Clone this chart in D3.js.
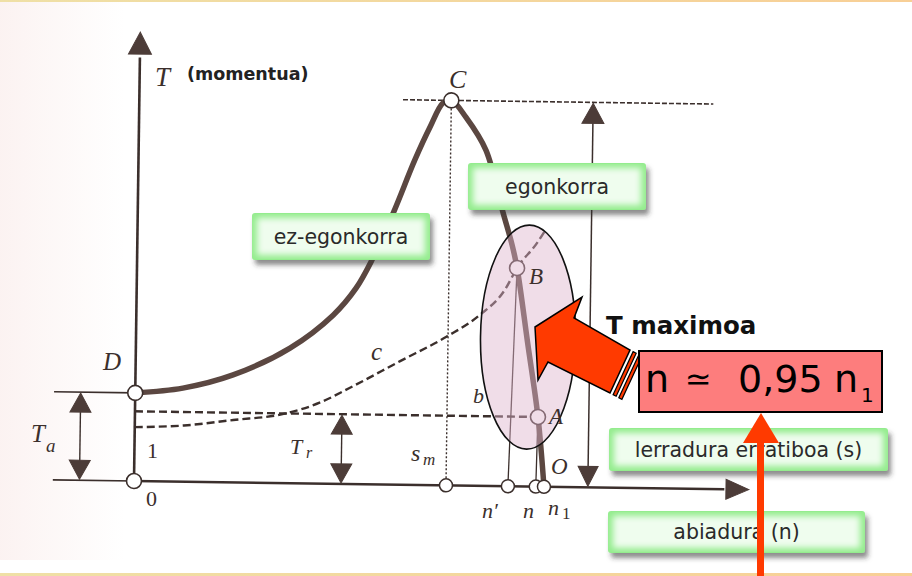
<!DOCTYPE html>
<html>
<head>
<meta charset="utf-8">
<script src="https://cdn.jsdelivr.net/npm/d3@7"></script>
<style>
  body { margin: 0; background: #fff; }
  svg { display: block; }
</style>
</head>
<body>
<script>
// torque / speed curve of the motor (n relative to n1, T in % of Tmax)
var curveSpeed = [0, 0.116, 0.238, 0.376, 0.48, 0.535, 0.573, 0.623, 0.674, 0.71, 0.741, 0.761, 0.797, 0.847, 0.891, 0.914, 0.927, 0.955, 0.983, 1.0];
var curveTorque = [22.9, 24.3, 27.9, 35.1, 43.8, 50.9, 58.3, 70.5, 84.4, 93, 99.3, 100, 95.7, 87.2, 71, 62.7, 56.7, 37.5, 18.1, 0];

// dashed load curve "c"
var loadSpeed = [0, 0.12, 0.24, 0.36, 0.45, 0.52, 0.645, 0.757, 0.838, 0.898, 0.927, 0.975, 0.995];
var loadTorque = [14, 14.6, 16.2, 17.9, 21, 24.8, 32.1, 38.6, 44.4, 51, 56.7, 63.3, 66.7];

// key values
var Tmax = 100, Ta = 22.9, Tr = 18.1;
var pointNames = ["O", "D", "C", "B", "A"];
var pointSpeed = [0, 0, 0.761, 0.927, 0.983];
var pointTorque = [0, Ta, Tmax, 56.7, Tr];
var axisNames = ["sm", "n'", "n", "n1"];
var axisSpeed = [0.761, 0.912, 0.98, 1.0];

// text boxes
var boxLabels = ["ez-egonkorra", "egonkorra", "lerradura erratiboa (s)", "abiadura (n)"];
var formula = ["n", "\u2243", "0,95", "n", "1"];

//chart setup
var svgWidth = 912;
var svgHeight = 576;
var ink = "#3b2f2c";
var brown = "#4c3c38";

var svg = d3.select("body")
  .append("svg")
  .attr("width", svgWidth)
  .attr("height", svgHeight);

var defs = svg.append("defs");

var frameGrad = defs.append("linearGradient").attr("id", "frame");
frameGrad.append("stop").attr("offset", "0%").attr("stop-color", "#efe0a6");
frameGrad.append("stop").attr("offset", "100%").attr("stop-color", "#f8cf96");

var pinkGrad = defs.append("linearGradient").attr("id", "scan");
pinkGrad.append("stop").attr("offset", "0%").attr("stop-color", "#f3d6d2").attr("stop-opacity", 0.3);
pinkGrad.append("stop").attr("offset", "100%").attr("stop-color", "#f3d6d2").attr("stop-opacity", 0);

var shadow = defs.append("filter").attr("id", "shadow")
  .attr("x", "-10%").attr("y", "-20%").attr("width", "130%").attr("height", "160%");
shadow.append("feDropShadow")
  .attr("dx", 3).attr("dy", 5).attr("stdDeviation", 2.5)
  .attr("flood-color", "#333").attr("flood-opacity", 0.55);

var soft = defs.append("filter").attr("id", "soft");
soft.append("feGaussianBlur").attr("stdDeviation", 3);

// background, frame lines
svg.append("rect").attr("width", svgWidth).attr("height", svgHeight).attr("fill", "#fff");
svg.append("rect").attr("x", 0).attr("y", 0).attr("width", 125).attr("height", 560).attr("fill", "url(#scan)");
svg.append("rect").attr("x", 0).attr("y", 0).attr("width", svgWidth).attr("height", 2).attr("fill", "url(#frame)");
svg.append("rect").attr("x", 0).attr("y", 573).attr("width", svgWidth).attr("height", 3).attr("fill", "url(#frame)");

// scales (the scanned drawing is tilted a little)
var x = d3.scaleLinear().domain([0, 1.5]).range([134, 749]);
var y = d3.scaleLinear().domain([0, 100]).range([481, 96]);

var chartGroup = svg.append("g")
  .attr("transform", "rotate(0.8, 134, 481)");

function tri(tx, ty, dir, len, half) {
  // dir: "up", "down", "right"
  if (dir === "up") return [[tx, ty], [tx - half, ty + len], [tx + half, ty + len]];
  if (dir === "down") return [[tx, ty], [tx - half, ty - len], [tx + half, ty - len]];
  return [[tx, ty], [tx - len, ty - half], [tx - len, ty + half]];
}
function drawTri(pts) {
  chartGroup.append("polygon")
    .attr("points", pts.map(p => p.join(",")).join(" "))
    .attr("fill", brown)
    .attr("stroke", brown)
    .attr("stroke-width", 1);
}
function line(x1, y1, x2, y2, w, dash) {
  return chartGroup.append("line")
    .attr("x1", x1).attr("y1", y1).attr("x2", x2).attr("y2", y2)
    .attr("stroke", ink)
    .attr("stroke-width", w)
    .attr("stroke-dasharray", dash || null);
}

// axes
line(x(0), y(0), x(0), y(110), 2.6);
drawTri(tri(x(0), y(116.6), "up", 22, 11.5));
line(x(0), y(0), x(1.44), y(0), 2.6);
drawTri(tri(x(1.5), y(0), "right", 23, 10));

// Ta marker
var xTa = x(-0.133);
line(x(-0.198), y(Ta), x(0), y(Ta), 1.6);
line(x(-0.198), y(0), x(0), y(0), 1.6);
line(xTa, y(Ta) + 10, xTa, y(0) - 10, 1.4);
drawTri(tri(xTa, y(Ta) + 1, "up", 19, 10.5));
drawTri(tri(xTa, y(0) - 1, "down", 19, 10.5));

// Tr marker
var xTr = x(0.505);
line(xTr, y(Tr) + 10, xTr, y(0) - 10, 1.4);
drawTri(tri(xTr, y(Tr) + 1, "up", 19, 10.5));
drawTri(tri(xTr, y(0) - 1, "down", 19, 10.5));

// Tmax marker
var xTm = x(1.107);
line(xTm, y(Tmax) + 10, xTm, y(0) - 10, 1.5);
drawTri(tri(xTm, y(Tmax) + 1, "up", 20, 11));
drawTri(tri(xTm, y(0) - 1, "down", 20, 10));

// guide lines
line(x(0.643), y(Tmax), x(1.40), y(Tmax), 1.6, "5,2");
line(x(0.761), y(Tmax), x(0.761), y(0), 1.4, "2,2");
line(x(0), y(Tr), x(0.983), y(Tr), 2.4, "8,4");
line(x(0.927), y(56.7), x(0.912), y(0), 1.3);
line(x(0.983), y(Tr), x(0.98), y(0), 1.3);

// load curve c
var loadData = loadSpeed.map((s, i) => [s, loadTorque[i]]);
chartGroup.append("path")
  .attr("d", d3.line().x(d => x(d[0])).y(d => y(d[1])).curve(d3.curveMonotoneX)(loadData))
  .attr("fill", "none")
  .attr("stroke", ink)
  .attr("stroke-width", 2.4)
  .attr("stroke-dasharray", "8,4");

// motor torque curve
var curveData = curveSpeed.map((s, i) => [s, curveTorque[i]]);
chartGroup.append("path")
  .attr("d", d3.line().x(d => x(d[0])).y(d => y(d[1])).curve(d3.curveCatmullRom.alpha(0.5))(curveData))
  .attr("fill", "none")
  .attr("stroke", "#5b4741")
  .attr("stroke-width", 5.5)
  .attr("stroke-linecap", "round");

// points
chartGroup.selectAll("circle.pt")
  .data(pointNames)
  .enter()
  .append("circle")
  .attr("class", "pt")
  .attr("cx", (d, i) => x(pointSpeed[i]))
  .attr("cy", (d, i) => y(pointTorque[i]))
  .attr("r", 7.5)
  .attr("fill", "#fff")
  .attr("stroke", ink)
  .attr("stroke-width", 1.6);

chartGroup.selectAll("circle.ax")
  .data(axisNames)
  .enter()
  .append("circle")
  .attr("class", "ax")
  .attr("cx", (d, i) => x(axisSpeed[i]))
  .attr("cy", y(0))
  .attr("r", 6.5)
  .attr("fill", "#fff")
  .attr("stroke", ink)
  .attr("stroke-width", 1.5);

// highlight ellipse around B-A
chartGroup.append("ellipse")
  .attr("cx", x(0.956))
  .attr("cy", y(38.8))
  .attr("rx", 47.5)
  .attr("ry", 112)
  .attr("fill", "#deb3cc")
  .attr("fill-opacity", 0.45)
  .attr("stroke", "#111")
  .attr("stroke-width", 1.6);

// scanned italic labels
var serif = "'Liberation Serif', 'Times New Roman', serif";
function label(txt, lx, ly, size) {
  return svg.append("text")
    .attr("x", lx).attr("y", ly)
    .attr("font-family", serif)
    .attr("font-style", "italic")
    .attr("font-size", size)
    .attr("fill", ink)
    .text(txt);
}
label("T", 155, 86, 27);
label("C", 449, 88, 26);
label("D", 103, 370, 25);
label("c", 371, 360, 25);
label("T", 31, 442, 25);
label("a", 46, 452, 19);
label("1", 147, 458, 22).attr("font-style", "normal");
label("0", 146, 506, 22).attr("font-style", "normal");
label("T", 290, 454, 22);
label("r", 306, 458, 16);
label("s", 411, 461, 24);
label("m", 423, 465, 17);
label("b", 473, 403, 22);
label("B", 529, 284, 23);
label("A", 549, 424, 23);
label("O", 551, 474, 23);
label("n\u2032", 482, 518, 22);
label("n", 523, 518, 22);
label("n", 548, 515, 22);
label("1", 562, 519, 17).attr("font-style", "normal");

svg.append("text")
  .attr("x", 187).attr("y", 80)
  .attr("font-family", "'DejaVu Sans', Verdana, sans-serif")
  .attr("font-weight", "bold")
  .attr("font-size", 17.5)
  .attr("fill", "#222")
  .text("(momentua)");

svg.append("text")
  .attr("x", 606).attr("y", 334)
  .attr("font-family", "'DejaVu Sans', Verdana, sans-serif")
  .attr("font-weight", "bold")
  .attr("font-size", 24.5)
  .attr("fill", "#111")
  .text("T maximoa");

// green label boxes
var boxPos = [[252, 213, 178, 47], [468, 163, 178, 47], [609, 428, 279, 43], [608, 511, 257, 42]];
var boxes = svg.selectAll("g.box")
  .data(boxLabels)
  .enter()
  .append("g")
  .attr("class", "box")
  .attr("transform", (d, i) => `translate(${boxPos[i][0]}, ${boxPos[i][1]})`);

boxes.append("rect")
  .attr("width", (d, i) => boxPos[i][2])
  .attr("height", (d, i) => boxPos[i][3])
  .attr("rx", 3)
  .attr("fill", "#94ec8e")
  .attr("filter", "url(#shadow)");
boxes.append("rect")
  .attr("x", 5).attr("y", 5)
  .attr("width", (d, i) => boxPos[i][2] - 10)
  .attr("height", (d, i) => boxPos[i][3] - 10)
  .attr("fill", "#effdee")
  .attr("filter", "url(#soft)");
boxes.append("text")
  .attr("x", (d, i) => boxPos[i][2] / 2)
  .attr("y", (d, i) => boxPos[i][3] / 2 + 7)
  .attr("text-anchor", "middle")
  .attr("font-family", "'DejaVu Sans', Verdana, sans-serif")
  .attr("font-size", 20.5)
  .attr("fill", "#2a2a2a")
  .text(d => d);

// big red arrow pointing into the ellipse
var red = "#ff3a00";
var arrowPts = [[535, 327], [582, 297], [574, 318], [630, 350], [610, 393], [548, 362], [538, 380]];
svg.append("polygon")
  .attr("points", arrowPts.map(p => p.join(",")).join(" "))
  .attr("fill", red)
  .attr("stroke", "#000")
  .attr("stroke-width", 1.5)
  .attr("stroke-linejoin", "miter");

var e1 = [630, 350], e2 = [610, 393];
var ux = 0.882, uy = 0.471;
[[3.5, 7], [10, 13.5]].forEach(function(s) {
  var pts = [
    [e1[0] + s[0] * ux, e1[1] + s[0] * uy],
    [e1[0] + s[1] * ux, e1[1] + s[1] * uy],
    [e2[0] + s[1] * ux, e2[1] + s[1] * uy],
    [e2[0] + s[0] * ux, e2[1] + s[0] * uy]
  ];
  svg.append("polygon")
    .attr("points", pts.map(p => p.join(",")).join(" "))
    .attr("fill", red)
    .attr("stroke", "#000")
    .attr("stroke-width", 1.2);
});

// formula box
svg.append("rect")
  .attr("x", 639).attr("y", 351)
  .attr("width", 243).attr("height", 61)
  .attr("fill", "#fd7d7d")
  .attr("stroke", "#000")
  .attr("stroke-width", 2);

var fText = svg.append("text")
  .attr("y", 392)
  .attr("font-family", "'DejaVu Sans', Verdana, sans-serif")
  .attr("font-size", 38)
  .attr("fill", "#000");
var fX = [645, 685, 738, 834, 861];
formula.forEach(function(t, i) {
  var ts = fText.append("tspan").attr("x", fX[i]).text(t);
  if (i === 1) ts.attr("font-size", 32).attr("y", 390);
  else if (i === 4) ts.attr("font-size", 20).attr("y", 402);
  else ts.attr("y", 392);
});

// red vertical arrow
svg.append("rect")
  .attr("x", 757).attr("y", 440)
  .attr("width", 7).attr("height", 136)
  .attr("fill", red);
svg.append("polygon")
  .attr("points", "761,413 743,443 779,443")
  .attr("fill", red);
</script>
</body>
</html>
